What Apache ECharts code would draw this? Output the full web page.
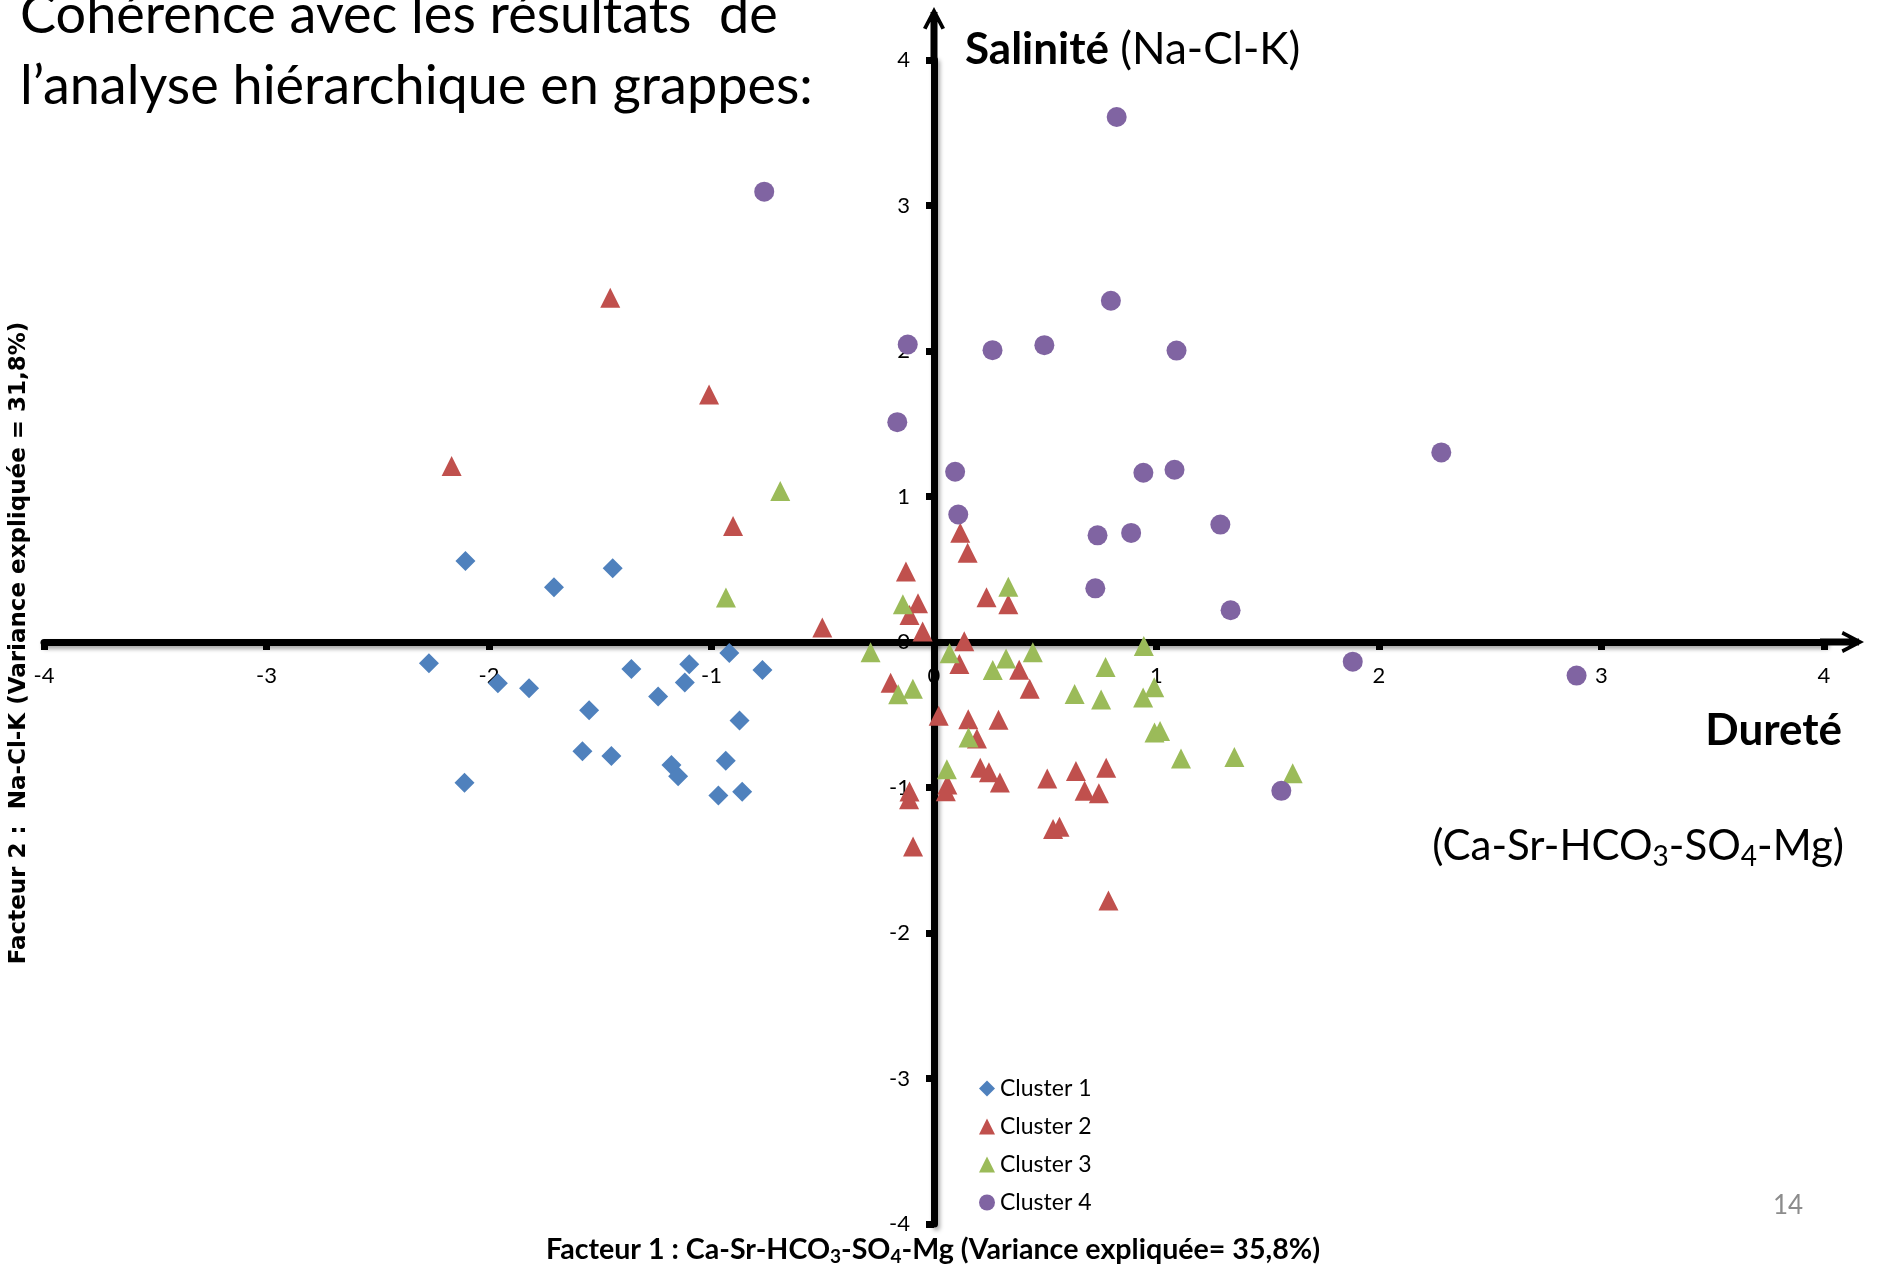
<!DOCTYPE html>
<html><head><meta charset="utf-8">
<script src="https://cdn.jsdelivr.net/npm/echarts@6/dist/echarts.min.js"></script>
<style>html,body{margin:0;padding:0;background:#fff}#c{width:1878px;height:1272px}</style>
</head><body><div id="c"></div>
<script>
const seriesNames = ['Cluster 1', 'Cluster 2', 'Cluster 3', 'Cluster 4'];
const xTicks = [-4, -3, -2, -1, 0, 1, 2, 3, 4];
const yTicks = [-4, -3, -2, -1, 0, 1, 2, 3, 4];

const cluster1 = [
  [-2.106, 0.556], [-1.708, 0.376], [-1.444, 0.507],
  [-2.27, -0.146], [-1.96, -0.284], [-1.82, -0.318], [-2.11, -0.968],
  [-1.55, -0.469], [-1.58, -0.751], [-1.45, -0.783], [-1.36, -0.185],
  [-1.24, -0.375], [-1.10, -0.153], [-1.12, -0.279], [-0.92, -0.075],
  [-0.771, -0.192], [-0.874, -0.54], [-1.18, -0.845], [-1.15, -0.922],
  [-0.936, -0.817], [-0.969, -1.055], [-0.862, -1.03]
];
const cluster2 = [
  [-1.455, 2.366], [-1.011, 1.701], [-2.168, 1.209], [-0.903, 0.797],
  [-0.502, 0.099], [-0.126, 0.484], [-0.072, 0.266], [-0.110, 0.185],
  [-0.051, 0.072], [0.118, 0.751], [0.151, 0.614], [0.236, 0.307],
  [0.334, 0.259], [0.136, 0.005], [0.114, -0.152], [0.383, -0.190],
  [-0.195, -0.28], [0.430, -0.322], [0.021, -0.507], [0.154, -0.531],
  [0.290, -0.534], [0.193, -0.663], [0.208, -0.864], [0.247, -0.896],
  [0.296, -0.966], [0.509, -0.939], [0.638, -0.887], [0.774, -0.864],
  [0.677, -1.022], [0.741, -1.040], [0.535, -1.286], [0.564, -1.269],
  [0.784, -1.776], [0.060, -0.979], [0.053, -1.025], [-0.110, -1.027],
  [-0.112, -1.081], [-0.094, -1.406]
];
const cluster3 = [
  [-0.691, 1.037], [-0.935, 0.305], [-0.140, 0.259], [0.334, 0.380],
  [-0.285, -0.071], [-0.161, -0.359], [-0.095, -0.322], [0.070, -0.078],
  [0.324, -0.114], [0.264, -0.193], [0.444, -0.07], [0.943, -0.027],
  [0.771, -0.172], [0.632, -0.357], [0.751, -0.396], [0.940, -0.382],
  [0.990, -0.311], [0.991, -0.622], [1.016, -0.611], [1.110, -0.800],
  [1.350, -0.790], [1.612, -0.902], [0.155, -0.657], [0.058, -0.874]
];
const cluster4 = [
  [0.821, 3.608], [-0.763, 3.095], [0.795, 2.345], [-0.118, 2.045],
  [0.263, 2.006], [0.496, 2.040], [1.090, 2.003], [-0.165, 1.511],
  [0.095, 1.170], [0.941, 1.163], [1.081, 1.184], [2.28, 1.303],
  [0.109, 0.876], [0.735, 0.733], [0.886, 0.750], [1.287, 0.807],
  [0.725, 0.369], [1.333, 0.218], [1.882, -0.135], [2.888, -0.231],
  [1.561, -1.023]
];

const colors = ['#4F81BD', '#C0504D', '#9BBB59', '#8064A2'];
const symbols = ['diamond', 'triangle', 'triangle', 'circle'];
const allData = [cluster1, cluster2, cluster3, cluster4];

const FONT = 'Lato, "Open Sans", sans-serif';
// chevron arrow with stem, pointing up
const arrowX = 'path://M11,0 L22,21 L18.5,22.5 L11,8 L3.5,22.5 L0,21 Z M7.5,5 L14.5,5 L14.5,44 L7.5,44 Z';
const arrowY = 'path://M11,0 L22,21 L18.5,22.5 L11,8 L3.5,22.5 L0,21 Z M7.5,5 L14.5,5 L14.5,57 L7.5,57 Z';

const axisLineStyle = {
  color: '#000', width: 7,
  shadowColor: 'rgba(0,0,0,0.35)', shadowBlur: 4, shadowOffsetX: 2, shadowOffsetY: 3
};

// grid geometry: the axes cross at (0,0), which lies mid-grid
const W = 1878, H = 1272;
const G = { left: 44, right: 54, top: 60, bottom: 48 };
const gw = W - G.left - G.right, gh = H - G.top - G.bottom;

const chart = echarts.init(document.getElementById('c'), null, { renderer: 'canvas' });
chart.setOption({
  animation: false,
  backgroundColor: '#fff',
  grid: { left: G.left, right: G.right, top: G.top, bottom: G.bottom, containLabel: false },
  xAxis: {
    type: 'value', min: xTicks[0], max: xTicks[xTicks.length - 1], interval: 1,
    position: 'bottom', offset: -gh / 2,
    splitLine: { show: false },
    axisLine: { onZero: false, lineStyle: axisLineStyle, symbol: ['none', arrowX], symbolSize: [22, 44], symbolOffset: [0, 18] },
    axisTick: { show: true, length: 8, lineStyle: { color: '#000', width: 7 } },
    axisLabel: { margin: 23, fontFamily: FONT, fontSize: 22, color: '#000' }
  },
  yAxis: {
    type: 'value', min: yTicks[0], max: yTicks[yTicks.length - 1], interval: 1,
    position: 'left', offset: -gw / 2,
    splitLine: { show: false },
    axisLine: { onZero: false, lineStyle: axisLineStyle, symbol: ['none', arrowY], symbolSize: [22, 57], symbolOffset: [0, 24.5] },
    axisTick: { show: true, length: 8, lineStyle: { color: '#000', width: 7 } },
    axisLabel: { margin: 24, fontFamily: FONT, fontSize: 22, color: '#000' }
  },
  legend: {
    data: seriesNames, orient: 'vertical', left: 974, top: 1072,
    itemWidth: 16, itemHeight: 16, itemGap: 15,
    textStyle: { fontFamily: FONT, fontSize: 23, color: '#000' }
  },
  series: seriesNames.map((n, i) => ({
    name: n, type: 'scatter', data: allData[i], symbol: symbols[i], symbolSize: 20,
    itemStyle: { color: colors[i], opacity: 1 }, z: 3 + i
  })),
  graphic: [
    { type: 'text', x: 20, y: 16, style: { text: 'Cohérence avec les résultats  de', font: '54px ' + FONT, fill: '#000', verticalAlign: 'middle', align: 'left' } },
    { type: 'text', x: 20, y: 87, style: { text: 'l’analyse hiérarchique en grappes:', font: '54px ' + FONT, fill: '#000', verticalAlign: 'middle', align: 'left' } },
    { type: 'text', x: 965, y: 50, style: {
      text: '{b|Salinité} {r|(Na-Cl-K)}', align: 'left', verticalAlign: 'middle',
      rich: { b: { fontFamily: FONT, fontSize: 44, fontWeight: 'bold', fill: '#000' }, r: { fontFamily: FONT, fontSize: 44, fill: '#000' } },
      font: '44px ' + FONT, fill: '#000' } },
    { type: 'text', x: 1842, y: 731, style: { text: 'Dureté', font: 'bold 44px ' + FONT, fill: '#000', align: 'right', verticalAlign: 'middle' } },
    { type: 'text', x: 1844, y: 846, style: {
      text: '{r|(Ca-Sr-HCO}{s|3}{r|-SO}{s|4}{r|-Mg)}', align: 'right', verticalAlign: 'middle',
      rich: { r: { fontFamily: FONT, fontSize: 42, fill: '#000', lineHeight: 50 }, s: { fontFamily: FONT, fontSize: 28, fill: '#000', lineHeight: 30, verticalAlign: 'bottom' } },
      font: '42px ' + FONT, fill: '#000' } },
    { type: 'text', x: 933, y: 1250, style: {
      text: '{r|Facteur 1 : Ca-Sr-HCO}{s|3}{r|-SO}{s|4}{r|-Mg (Variance expliquée= 35,8%)}', align: 'center', verticalAlign: 'middle',
      rich: { r: { fontFamily: FONT, fontSize: 28.6, fontWeight: 'bold', fill: '#000', lineHeight: 32 }, s: { fontFamily: FONT, fontSize: 19, fontWeight: 'bold', fill: '#000', lineHeight: 20, verticalAlign: 'bottom' } },
      font: 'bold 28.6px ' + FONT, fill: '#000' } },
    { type: 'text', x: 19, y: 643, rotation: Math.PI / 2, style: {
      text: 'Facteur 2 :  Na-Cl-K (Variance expliquée = 31,8%)', font: 'bold 23px "DejaVu Sans", sans-serif', fill: '#000', align: 'center', verticalAlign: 'middle' } },
    { type: 'text', x: 1788, y: 1206, style: { text: '14', font: '26px ' + FONT, fill: '#8c8c8c', align: 'center', verticalAlign: 'middle' } }
  ]
});
</script>
</body></html>
